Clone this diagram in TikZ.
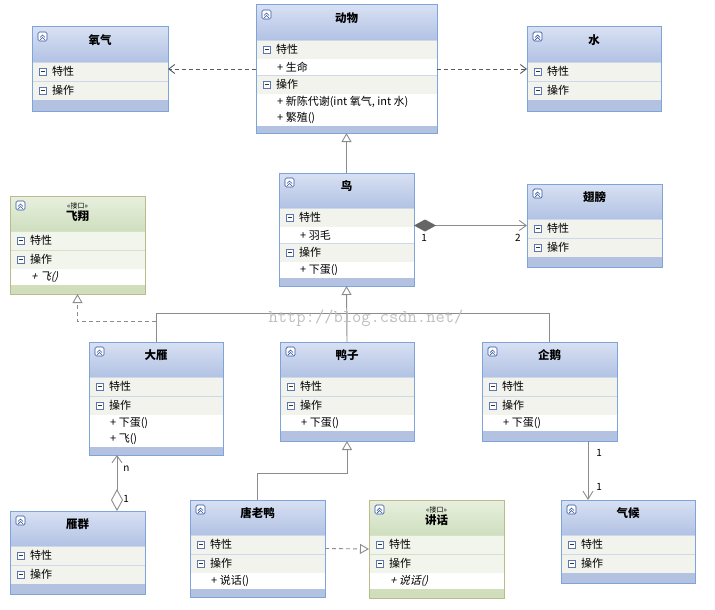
\documentclass[tikz,border=0pt]{standalone}
\usepackage{fontspec}
\setmainfont{Noto Sans CJK SC}
\newfontfamily\slantcjk{Noto Sans CJK SC}[FakeSlant=0.25]
\usetikzlibrary{arrows.meta,positioning}

\definecolor{blueedge}{RGB}{126,164,218}
\definecolor{bluetop}{RGB}{216,225,243}
\definecolor{bluebot}{RGB}{178,194,228}
\definecolor{bluefoot}{RGB}{180,194,226}
\definecolor{bluerow}{RGB}{241,243,236}
\definecolor{bluesep}{RGB}{206,216,232}
\definecolor{greenedge}{RGB}{186,186,140}
\definecolor{greentop}{RGB}{232,240,222}
\definecolor{greenbot}{RGB}{206,222,190}
\definecolor{greenfoot}{RGB}{208,222,188}
\definecolor{greenrow}{RGB}{242,245,236}
\definecolor{greensep}{RGB}{214,226,200}
\definecolor{iconblue}{RGB}{50,84,160}
\definecolor{linkgray}{RGB}{140,140,140}
\definecolor{dashgray}{RGB}{90,90,90}

\tikzset{
  plainclass/.style={rowfill/.style={fill=bluerow}, rowsep/.style={draw=bluesep, line width=0.6pt},
    headshade/.style={top color=bluetop, bottom color=bluebot}, footfill/.style={fill=bluefoot},
    edge/.style={draw=blueedge, line width=1pt}},
  interface/.style={rowfill/.style={fill=greenrow}, rowsep/.style={draw=greensep, line width=0.6pt},
    headshade/.style={top color=greentop, bottom color=greenbot}, footfill/.style={fill=greenfoot},
    edge/.style={draw=greenedge, line width=1pt}},
  titletext/.style={font=\bfseries\fontsize{11.5}{12}\selectfont, inner sep=0pt},
  stereotext/.style={font=\fontsize{7}{8}\selectfont, inner sep=0pt},
  rowtext/.style={font=\fontsize{11}{12}\selectfont, anchor=west, inner sep=0pt},
  mult/.style={font=\fontsize{10}{11}\selectfont, inner sep=0pt},
  iconedge/.style={draw=iconblue, fill=white, line width=0.7pt},
  iconline/.style={draw=iconblue, line width=0.7pt},
  minusicon/.style={draw=iconblue!80, fill=white, line width=0.6pt},
  minusbar/.style={draw=black!80, line width=0.8pt},
  link/.style={draw=linkgray, line width=0.9pt},
  dependency/.style={draw=dashgray, line width=0.9pt, dash pattern=on 4pt off 3pt,
    -{Straight Barb[length=6pt,width=9pt]}},
  generalize/.style={link, -{Triangle[open,length=9pt,width=10pt,fill=white]}},
  realize/.style={generalize, dash pattern=on 4pt off 3pt},
  composition/.style={link, {Diamond[length=22pt,width=12pt,color=black!60]}-{Straight Barb[length=7pt,width=10pt]}},
  aggregation/.style={link, {Diamond[open,length=22pt,width=12pt,fill=white]}-{Straight Barb[length=7pt,width=10pt]}},
  association/.style={link, -{Straight Barb[length=8pt,width=10pt]}},
  watermark/.style={font=\ttfamily\fontsize{18}{20}\selectfont, text=black!25, inner sep=0pt},
}

% one class box: name, kind, left, top, width, height, rows
\newcommand{\umlclass}[7]{%
  \def\bw{#5}%
  \begin{scope}[shift={(#3,#4)}, #2]
    \fill[footfill] (0,0) rectangle (#5,#6);
    \shade[headshade] (0,0) rectangle (#5,35);
    #7
    \draw[iconedge, rounded corners=1.5pt] (6,5) rectangle (15,14);
    \draw[iconline] (8,10.5) -- (10.5,8) -- (13,10.5) (8,13) -- (10.5,10.5) -- (13,13);
    \node[edge, minimum width=#5pt, minimum height=#6pt, anchor=north west,
      inner sep=0pt, outer sep=0pt] (#1) at (0,0) {};
  \end{scope}}
\newcommand{\classtitle}[1]{\node[titletext] at (\bw/2,13.5) {#1};}
\newcommand{\ifacetitle}[1]{%
  \node[stereotext] at (\bw/2,10) {«接口»};
  \node[titletext] at (\bw/2,20.5) {#1};}
\newcommand{\compartment}[2]{%
  \fill[rowfill] (0,#1) rectangle (\bw,#1+19);
  \draw[rowsep] (0,#1) -- (\bw,#1);
  \draw[minusicon] (7.5,#1+6) rectangle (14.5,#1+13);
  \draw[minusbar] (9.2,#1+9.5) -- (12.8,#1+9.5);
  \node[rowtext] at (20,#1+9.5) {#2};}
\newcommand{\member}[2]{%
  \fill[white] (0,#1) rectangle (\bw,#1+16);
  \node[rowtext] at (21,#1+8) {#2};}

\begin{document}
\begin{tikzpicture}[x=1pt,y=-1pt]
  \fill[white] (0,0) rectangle (715,610);

  % classes
  \umlclass{dongwu}{plainclass}{256}{5}{181}{128}{%
    \classtitle{动物}
    \compartment{35}{特性}
    \member{54}{+ 生命}
    \compartment{70}{操作}
    \member{89}{+ 新陈代谢(int 氧气, int 水)}
    \member{105}{+ 繁殖()}}
  \umlclass{yangqi}{plainclass}{32}{27}{136}{84}{%
    \classtitle{氧气}
    \compartment{35}{特性}
    \compartment{54}{操作}}
  \umlclass{shui}{plainclass}{527}{27}{134}{84}{%
    \classtitle{水}
    \compartment{35}{特性}
    \compartment{54}{操作}}
  \umlclass{niao}{plainclass}{279}{173}{135}{113}{%
    \classtitle{鸟}
    \compartment{35}{特性}
    \member{54}{+ 羽毛}
    \compartment{70}{操作}
    \member{89}{+ 下蛋()}}
  \umlclass{chibang}{plainclass}{527}{184}{135}{83}{%
    \classtitle{翅膀}
    \compartment{35}{特性}
    \compartment{54}{操作}}
  \umlclass{feixiang}{interface}{10}{196}{135}{98}{%
    \ifacetitle{飞翔}
    \compartment{35}{特性}
    \compartment{54}{操作}
    \member{73}{\slantcjk + 飞()}}
  \umlclass{dayan}{plainclass}{89}{342}{134}{113}{%
    \classtitle{大雁}
    \compartment{35}{特性}
    \compartment{54}{操作}
    \member{73}{+ 下蛋()}
    \member{89}{+ 飞()}}
  \umlclass{yazi}{plainclass}{280}{342}{134}{99}{%
    \classtitle{鸭子}
    \compartment{35}{特性}
    \compartment{54}{操作}
    \member{73}{+ 下蛋()}}
  \umlclass{qie}{plainclass}{482}{342}{135}{99}{%
    \classtitle{企鹅}
    \compartment{35}{特性}
    \compartment{54}{操作}
    \member{73}{+ 下蛋()}}
  \umlclass{yanqun}{plainclass}{10}{511}{135}{83}{%
    \classtitle{雁群}
    \compartment{35}{特性}
    \compartment{54}{操作}}
  \umlclass{tanglaoya}{plainclass}{190}{500}{135}{97}{%
    \classtitle{唐老鸭}
    \compartment{35}{特性}
    \compartment{54}{操作}
    \member{73}{+ 说话()}}
  \umlclass{jianghua}{interface}{369}{500}{135}{98}{%
    \ifacetitle{讲话}
    \compartment{35}{特性}
    \compartment{54}{操作}
    \member{73}{\slantcjk + 说话()}}
  \umlclass{qihou}{plainclass}{561}{500}{134}{83}{%
    \classtitle{气候}
    \compartment{35}{特性}
    \compartment{54}{操作}}

  % connectors
  \draw[dependency] (dongwu.west) -- (yangqi.east);
  \draw[dependency] (dongwu.east) -- (shui.west);
  \draw[generalize] (niao.north) -- (dongwu.south);
  \draw[composition] (niao.east |- chibang.west) -- (chibang.west)
    node[mult, pos=0.09, below=8pt] {1} node[mult, pos=0.92, below=8pt] {2};

  \coordinate (birdhub) at ([yshift=-27pt]niao.south);
  \draw[link] (dayan.north) |- (birdhub);
  \draw[link] (qie.north) |- (birdhub);
  \draw[generalize] (yazi.north) -- (niao.south);

  \coordinate (flyturn) at ([yshift=21pt]dayan.north);
  \draw[realize] (flyturn) -| (feixiang.south);

  \coordinate (flockend) at ([xshift=39.5pt]yanqun.north);
  \draw[aggregation] (flockend) -- (flockend |- dayan.south)
    node[mult, pos=0.21, right=6pt] {1} node[mult, pos=0.75, right=6pt] {n};

  \coordinate (duckhub) at ([yshift=-32pt]yazi.south);
  \draw[generalize] (tanglaoya.north) |- (duckhub) -- (yazi.south);
  \draw[realize] (tanglaoya.east) -- (jianghua.west);

  \coordinate (climatestart) at ([xshift=38.5pt]qie.south);
  \draw[association] (climatestart) -- (climatestart |- qihou.north)
    node[mult, pos=0.2, right=8pt] {1} node[mult, pos=0.78, right=8pt] {1};

  \node[watermark] (csdn) at (366,318) {http://blog.csdn.net/};
\end{tikzpicture}
\end{document}
